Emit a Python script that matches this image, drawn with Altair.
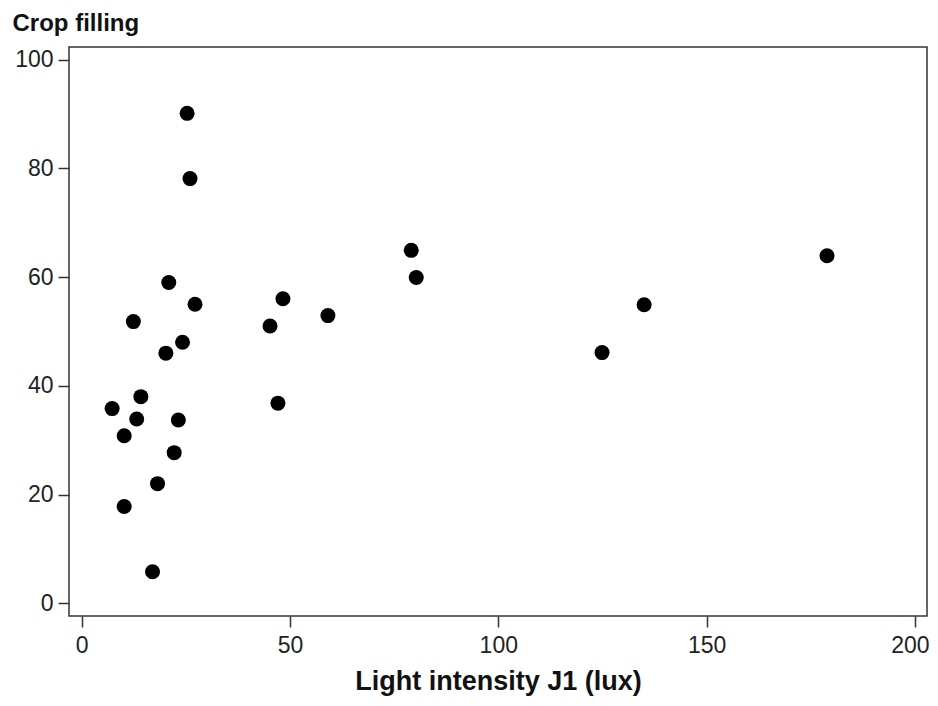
import altair as alt
import pandas as pd

light = [7.3, 10.2, 10.2, 12.4, 13.2, 14.2, 17.0, 18.2, 20.2, 20.9, 22.2, 23.2,
         24.2, 25.3, 26.0, 27.2, 45.2, 47.1, 48.3, 59.1, 79.1, 80.3, 124.9, 135.0, 178.9]
crop = [35.8, 30.8, 17.8, 51.8, 33.9, 38.0, 5.8, 22.0, 46.0, 59.0, 27.7, 33.7,
        48.0, 90.1, 78.1, 55.0, 51.0, 36.8, 56.0, 52.9, 64.9, 59.9, 46.1, 54.9, 63.9]
x_ticks = [0, 50, 100, 150, 200]
y_ticks = [0, 20, 40, 60, 80, 100]

df = pd.DataFrame({"light": light, "crop": crop})

FONT = "Liberation Sans"

chart = alt.Chart(df).mark_circle(size=225, color="black", opacity=1).encode(
    x=alt.X("light:Q",
            scale=alt.Scale(domain=[-3.05, 202.9], nice=False, zero=False),
            axis=alt.Axis(values=x_ticks, title="Light intensity J1 (lux)",
                          domain=False, grid=False, tickSize=11, tickWidth=1.5,
                          tickColor="#333", labelFontSize=23, labelColor="#222",
                          labelFont=FONT, labelPadding=7,
                          labelOffset=alt.condition("datum.value == 200",
                                                    alt.value(-5), alt.value(0)),
                          titleFont=FONT, titleFontSize=27, titleFontWeight="bold",
                          titleColor="#111", titlePadding=11)),
    y=alt.Y("crop:Q",
            scale=alt.Scale(domain=[-2.34, 102.3], nice=False, zero=False),
            axis=alt.Axis(values=y_ticks, title="Crop filling",
                          domain=False, grid=False, tickSize=11, tickWidth=1.5,
                          tickColor="#333", labelFontSize=23, labelColor="#222",
                          labelFont=FONT, labelPadding=5,
                          titleFont=FONT, titleFontSize=24, titleFontWeight="bold",
                          titleColor="#111", titleAngle=0, titleAlign="left",
                          titleBaseline="alphabetic", titleX=-57, titleY=-17)),
).properties(
    width=858, height=569,
    autosize=alt.AutoSizeParams(type="none"),
    padding={"left": 61, "top": 39, "right": 3, "bottom": 80},
).configure(
    background="white",
    view=alt.ViewConfig(stroke="#333", strokeWidth=1.5),
)

chart.save("out.html", embed_options={"renderer": "svg", "actions": False})
